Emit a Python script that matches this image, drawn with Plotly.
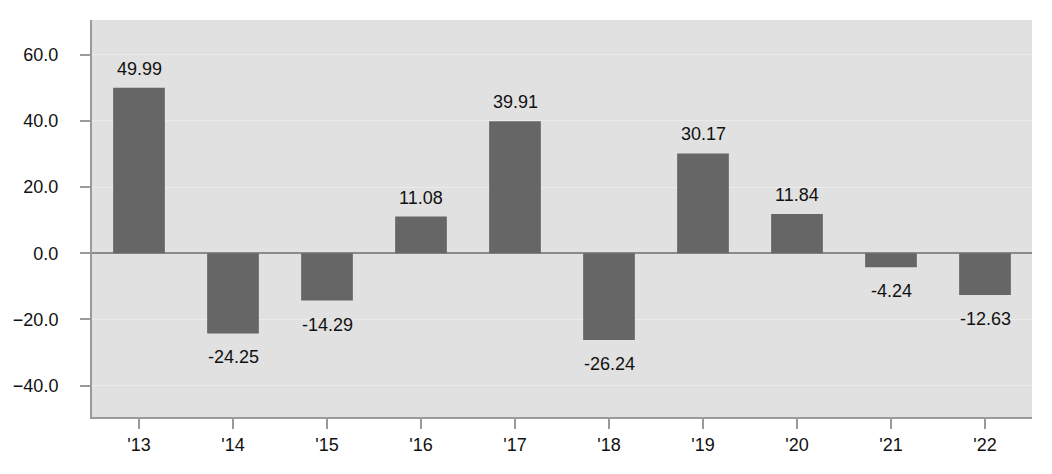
import plotly.graph_objects as go

years = ["'13", "'14", "'15", "'16", "'17", "'18", "'19", "'20", "'21", "'22"]
values = [49.99, -24.25, -14.29, 11.08, 39.91, -26.24, 30.17, 11.84, -4.24, -12.63]
tick_vals = [-40, -20, 0, 20, 40, 60]

FONT = "Liberation Sans, Arial, Helvetica, sans-serif"

fig = go.Figure(go.Bar(
    x=years, y=values,
    marker=dict(color="#666666", line=dict(width=0)),
    hoverinfo="x+y",
))

for x, v in zip(years, values):
    fig.add_annotation(
        x=x, y=v, text=f"{v:.2f}", showarrow=False,
        yanchor="bottom" if v >= 0 else "top",
        yshift=7 if v >= 0 else -12,
        font=dict(family=FONT, size=18, color="#111111"),
    )

fig.update_layout(
    width=1036, height=458,
    margin=dict(l=84, r=12, t=12, b=49),
    paper_bgcolor="white",
    plot_bgcolor="#e1e1e1",
    bargap=0.45,
    showlegend=False,
    font=dict(family=FONT, size=18, color="#111111"),
)
fig.update_xaxes(
    automargin=False,
    showline=True, linecolor="#9a9a9a", linewidth=2,
    ticks="outside", ticklen=10, tickcolor="#9a9a9a", tickwidth=2,
    showgrid=False, tickfont=dict(size=18),
)
fig.update_yaxes(
    automargin=False,
    range=[-49.5, 70.5],
    tickvals=tick_vals, tickformat=".1f",
    showline=True, linecolor="#9a9a9a", linewidth=2,
    ticks="outside", ticklen=10, tickcolor="#9a9a9a", tickwidth=2,
    ticklabelstandoff=18,
    showgrid=True, gridcolor="#ebebeb", gridwidth=1,
    zeroline=True, zerolinecolor="#8a8a8a", zerolinewidth=2,
    tickfont=dict(size=18),
)

fig.write_html("out.html")
